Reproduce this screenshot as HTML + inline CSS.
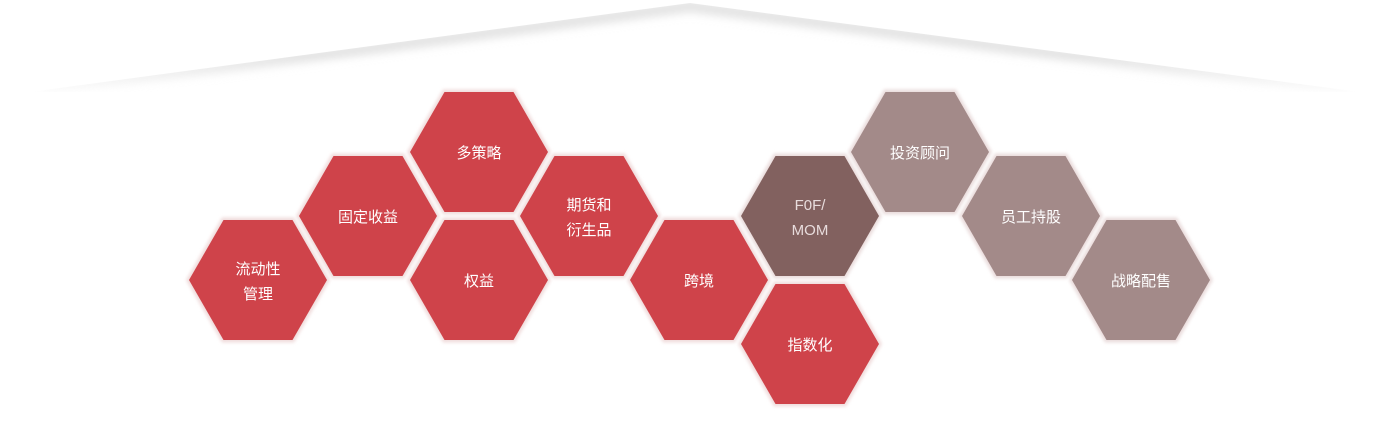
<!DOCTYPE html>
<html><head><meta charset="utf-8"><style>
html,body{margin:0;padding:0;background:#fff;}
svg{display:block}
text{font-family:"Liberation Sans","Noto Sans CJK SC",sans-serif;font-size:15px;fill:#fff;text-anchor:middle;}
</style></head><body>
<svg width="1400" height="422" viewBox="0 0 1400 422" xmlns="http://www.w3.org/2000/svg">
<defs>
<filter id="b" x="-20%" y="-50%" width="140%" height="200%"><feGaussianBlur stdDeviation="5"/></filter>
<filter id="g" x="-10%" y="-10%" width="120%" height="120%"><feGaussianBlur stdDeviation="1.5"/></filter>
<clipPath id="roof"><polygon points="690,3 1360,92 30,92"/></clipPath>
<linearGradient id="fd" x1="0" y1="0" x2="0" y2="1">
<stop offset="0" stop-color="#fff"/><stop offset="0.6" stop-color="#fff"/><stop offset="1" stop-color="#000"/>
</linearGradient>
<mask id="m" maskUnits="userSpaceOnUse" x="0" y="0" width="1400" height="100"><rect x="0" y="0" width="1400" height="95" fill="url(#fd)"/></mask>
<polygon id="h" points="-69,0 -34.5,-60 34.5,-60 69,0 34.5,60 -34.5,60"/>
</defs>
<g clip-path="url(#roof)" mask="url(#m)">
<polyline points="40,92 690,6 1350,92" fill="none" stroke="#d9d9d9" stroke-width="9" filter="url(#b)"/>
</g>
<g id="cells">
<g transform="translate(258,280)"><use href="#h" fill="#f0dcdc" stroke="#f0dcdc" stroke-width="5" filter="url(#g)"/><use href="#h" fill="#cf434a"/><text y="-6">流动性</text><text y="19">管理</text></g>
<g transform="translate(368,216)"><use href="#h" fill="#f0dcdc" stroke="#f0dcdc" stroke-width="5" filter="url(#g)"/><use href="#h" fill="#cf434a"/><text y="6">固定收益</text></g>
<g transform="translate(479,152)"><use href="#h" fill="#f0dcdc" stroke="#f0dcdc" stroke-width="5" filter="url(#g)"/><use href="#h" fill="#cf434a"/><text y="6">多策略</text></g>
<g transform="translate(479,280)"><use href="#h" fill="#f0dcdc" stroke="#f0dcdc" stroke-width="5" filter="url(#g)"/><use href="#h" fill="#cf434a"/><text y="6">权益</text></g>
<g transform="translate(589,216)"><use href="#h" fill="#f0dcdc" stroke="#f0dcdc" stroke-width="5" filter="url(#g)"/><use href="#h" fill="#cf434a"/><text y="-6">期货和</text><text y="19">衍生品</text></g>
<g transform="translate(699,280)"><use href="#h" fill="#f0dcdc" stroke="#f0dcdc" stroke-width="5" filter="url(#g)"/><use href="#h" fill="#cf434a"/><text y="6">跨境</text></g>
<g transform="translate(810,344)"><use href="#h" fill="#f0dcdc" stroke="#f0dcdc" stroke-width="5" filter="url(#g)"/><use href="#h" fill="#cf434a"/><text y="6">指数化</text></g>
<g transform="translate(810,216)"><use href="#h" fill="#eadcdc" stroke="#eadcdc" stroke-width="5" filter="url(#g)"/><use href="#h" fill="#82615f"/><text y="-6" style="fill:#e8dcdc">F0F/</text><text y="19" style="fill:#e8dcdc">MOM</text></g>
<g transform="translate(920,152)"><use href="#h" fill="#eadcdc" stroke="#eadcdc" stroke-width="5" filter="url(#g)"/><use href="#h" fill="#a38a89"/><text y="6">投资顾问</text></g>
<g transform="translate(1031,216)"><use href="#h" fill="#eadcdc" stroke="#eadcdc" stroke-width="5" filter="url(#g)"/><use href="#h" fill="#a38a89"/><text y="6">员工持股</text></g>
<g transform="translate(1141,280)"><use href="#h" fill="#eadcdc" stroke="#eadcdc" stroke-width="5" filter="url(#g)"/><use href="#h" fill="#a38a89"/><text y="6">战略配售</text></g>
</g>
</svg>
</body></html>
